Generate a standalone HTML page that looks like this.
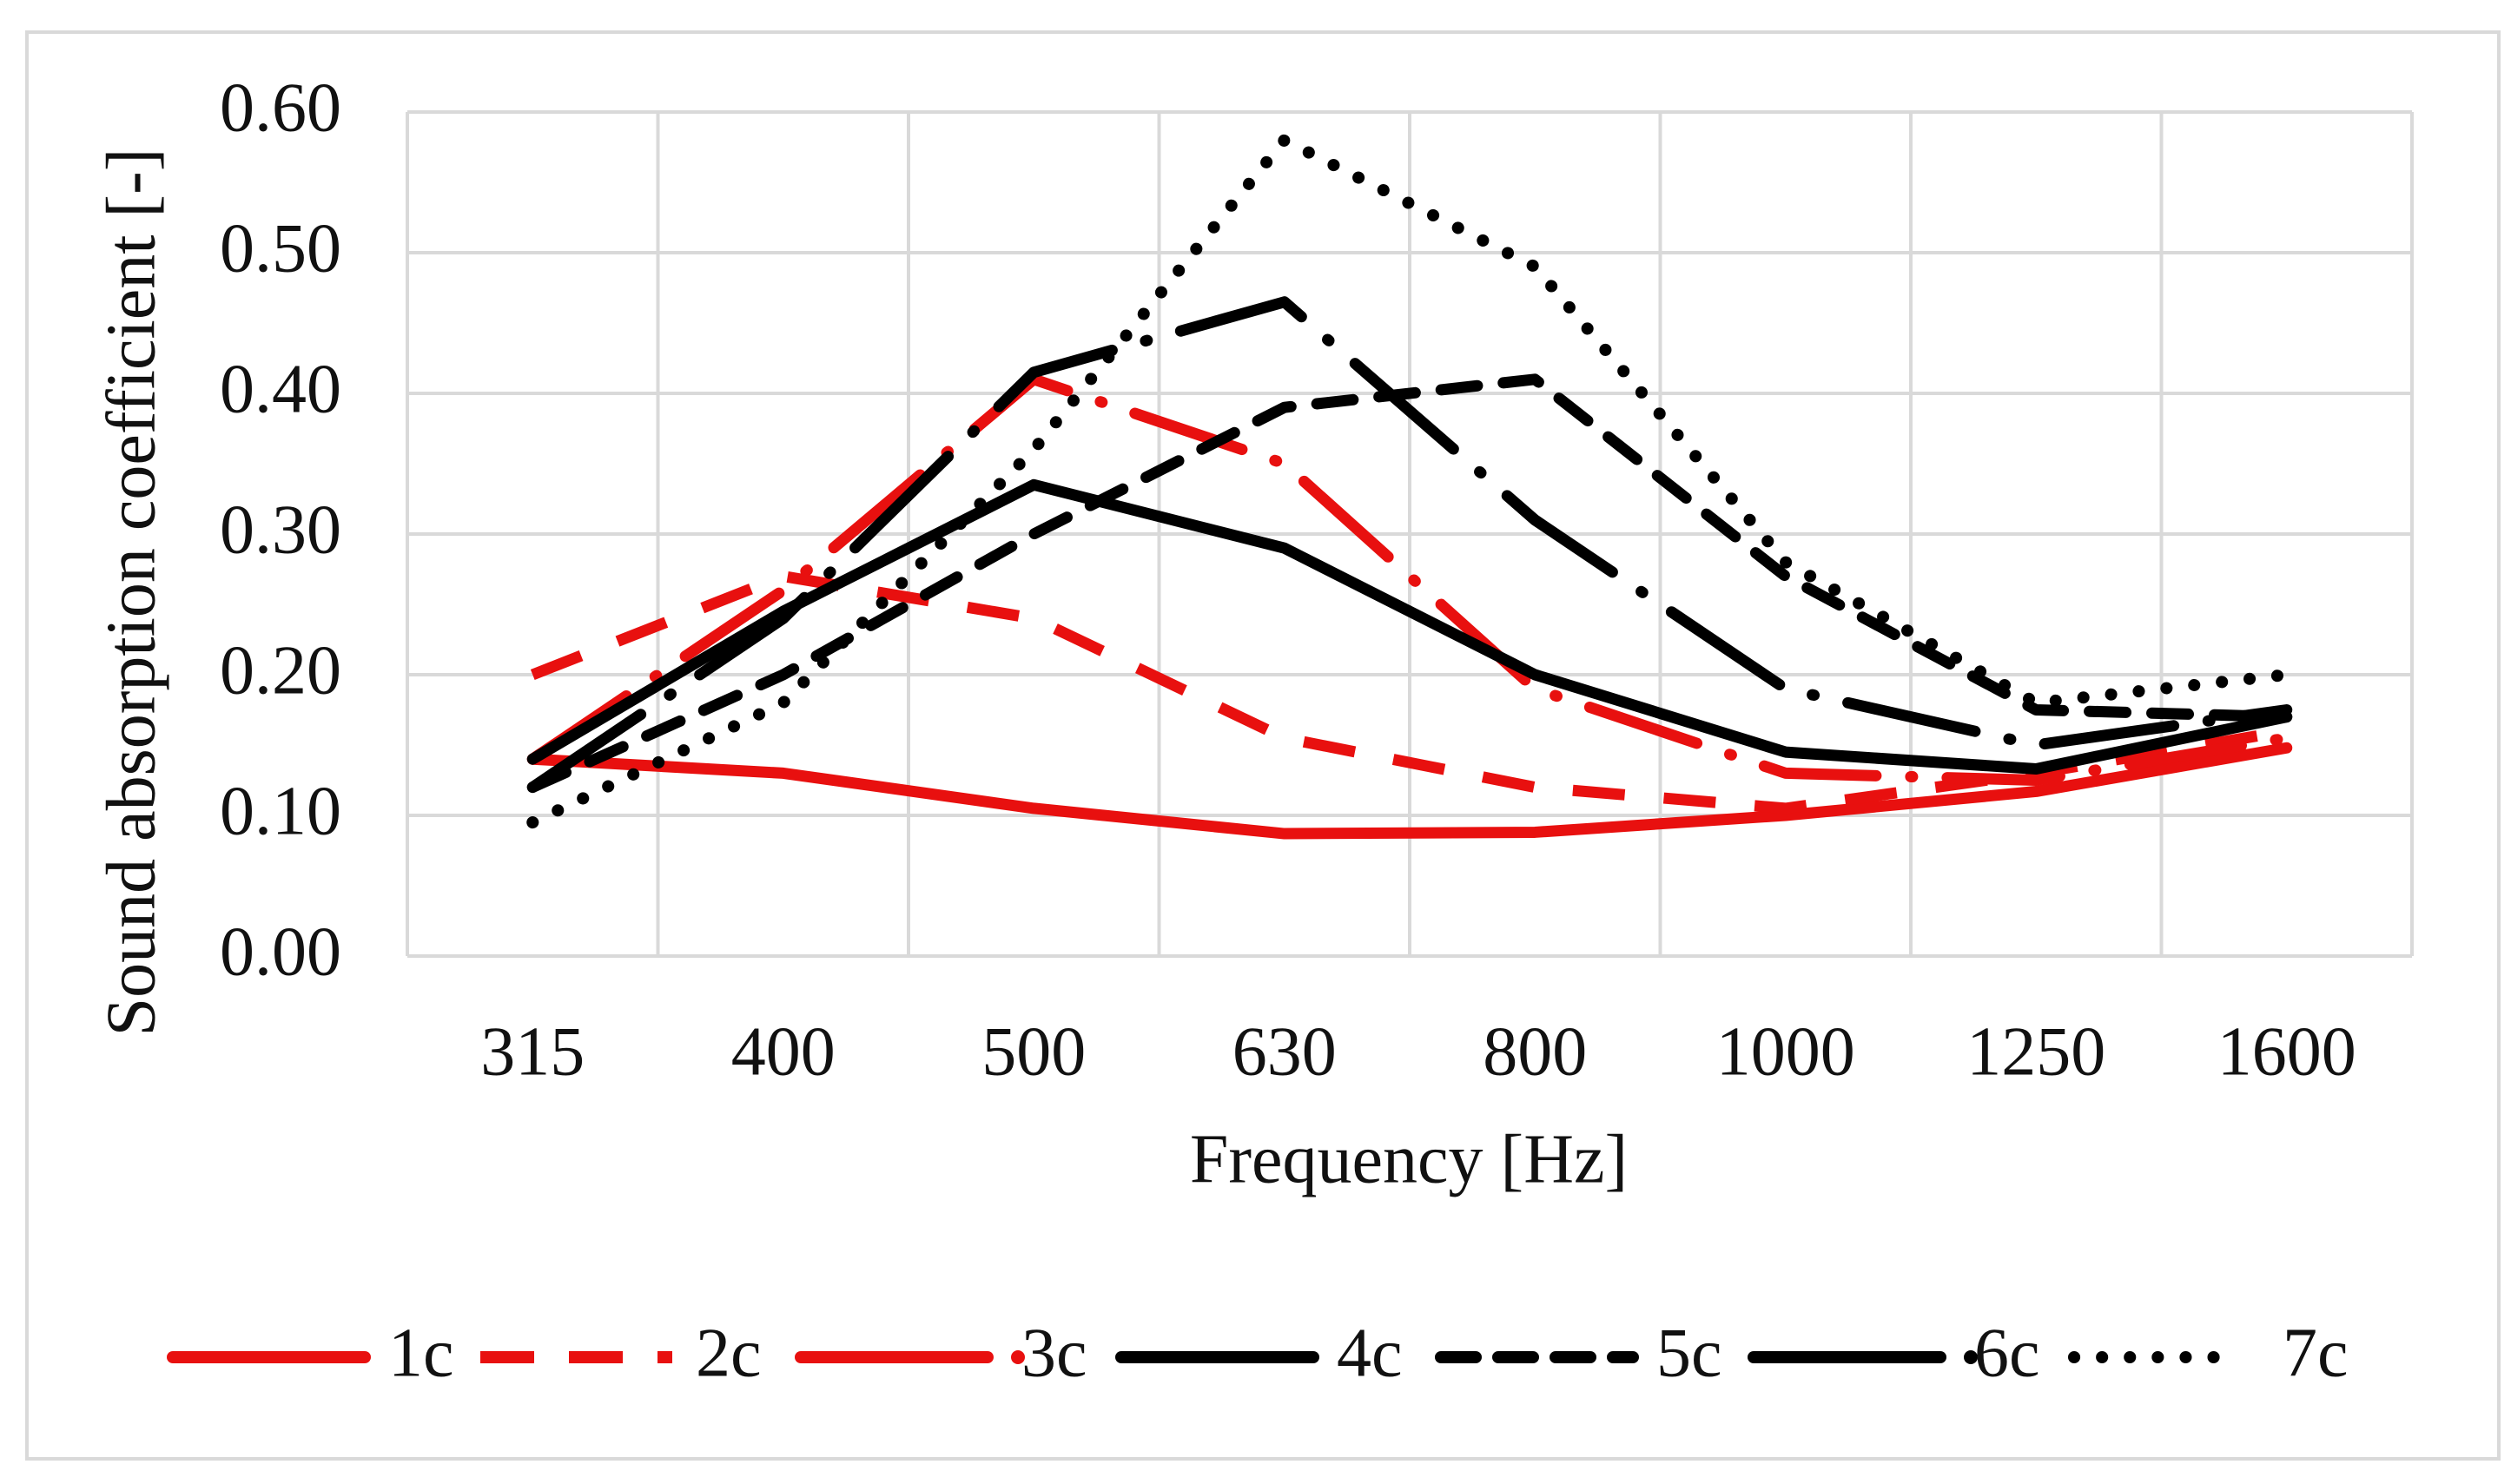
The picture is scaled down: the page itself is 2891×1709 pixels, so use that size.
<!DOCTYPE html>
<html><head><meta charset="utf-8"><style>
html,body{margin:0;padding:0;background:#fff;}
svg{display:block;}
text{font-family:"Liberation Serif",serif;fill:#111;}
</style></head><body>
<svg id="chart" width="2891" height="1709" viewBox="0 0 2891 1709" xmlns="http://www.w3.org/2000/svg">
<rect x="31" y="37" width="2846" height="1643" fill="#fff" stroke="#d9d9d9" stroke-width="4"/>
<g id="grid"></g>
<g id="yticks"></g>
<g id="xticks"></g>
<g id="series"></g>
<text x="159" y="682" font-size="80" text-anchor="middle" dominant-baseline="middle" transform="rotate(-90 159 682)">Sound absorption coefficient [-]</text>
<text x="1622" y="1343" font-size="80" text-anchor="middle" dominant-baseline="middle">Frequency [Hz]</text>
<g id="legend"></g>
</svg>
<script>
const categories = ["315","400","500","630","800","1000","1250","1600"];
const yTicks = [0,0.1,0.2,0.3,0.4,0.5,0.6];
const yTickLabels = ["0.00","0.10","0.20","0.30","0.40","0.50","0.60"];
const s1c = [0.14,0.13,0.105,0.087,0.088,0.10,0.117,0.148];
const s2c = [0.20,0.27,0.24,0.155,0.12,0.105,0.13,0.16];
const s3c = [0.14,0.26,0.41,0.35,0.19,0.13,0.125,0.155];
const s4c = [0.14,0.245,0.335,0.29,0.20,0.145,0.133,0.17];
const s5c = [0.12,0.20,0.30,0.39,0.41,0.27,0.175,0.17];
const s6c = [0.12,0.24,0.415,0.465,0.31,0.19,0.15,0.175];
const s7c = [0.095,0.18,0.36,0.58,0.49,0.28,0.18,0.20];
const seriesNames = ["1c","2c","3c","4c","5c","6c","7c"];

const NS="http://www.w3.org/2000/svg";
const L=469,R=2777,T=129,B=1101,YMAX=0.6;
const cw=(R-L)/categories.length;
const xS=i=>L+cw*(i+0.5);
const yS=v=>B-(v/YMAX)*(B-T);
function mk(tag,attrs,parent){const e=document.createElementNS(NS,tag);for(const k in attrs)e.setAttribute(k,attrs[k]);parent.appendChild(e);return e;}

const grid=document.getElementById('grid');
yTicks.forEach((v,i)=>{
  const ln=mk('line',{x1:L,x2:R,y1:yS(v),y2:yS(v),stroke:'#d9d9d9','stroke-width':4},grid);
  
  
  const t=mk('text',{x:393,y:yS(v)+3,'font-size':80,'text-anchor':'end','dominant-baseline':'middle'},document.getElementById('yticks'));
  t.textContent=yTickLabels[i];
  
  
});
for(let i=0;i<=categories.length;i++){
  const ln=mk('line',{x1:L+cw*i,x2:L+cw*i,y1:T,y2:B,stroke:'#d9d9d9','stroke-width':4},grid);
  
  
}
categories.forEach((c,i)=>{
  const t=mk('text',{x:xS(i),y:1219,'font-size':80,'text-anchor':'middle','dominant-baseline':'middle'},document.getElementById('xticks'));
  t.textContent=c;
  
  
});

const styles=[
 {c:'#e8100f',d:'',cap:'round'},
 {c:'#e8100f',d:'60 45',cap:'butt'},
 {c:'#e8100f',d:'130 40 2 40',cap:'round'},
 {c:'#000',d:'',cap:'round'},
 {c:'#000',d:'42 30',cap:'round'},
 {c:'#000',d:'150 40 2 40',cap:'round'},
 {c:'#000',d:'0.1 32',cap:'round'}
];
const allSeries=[s1c,s2c,s3c,s4c,s5c,s6c,s7c];
const sg=document.getElementById('series');
allSeries.forEach((s,k)=>{
  const d=s.map((v,i)=>(i?'L':'M')+xS(i)+' '+yS(v)).join(' ');
  const p=mk('path',{d:d,fill:'none',stroke:styles[k].c,'stroke-width':k==6?14:13,'stroke-linejoin':'round','stroke-linecap':styles[k].cap},sg);
  if(styles[k].d)p.setAttribute('stroke-dasharray',styles[k].d);
  
  
});

const lg=document.getElementById('legend');
const lx=[199,553,922,1291,1659,2019,2388];
const LY=1563;
seriesNames.forEach((n,k)=>{
  const g=mk('g',{},lg);
  
  
  const x0=lx[k];
  const p=mk('line',{x1:x0,x2:x0+(k==6?192:221),y1:LY,y2:LY,stroke:styles[k].c,'stroke-width':k==6?14:14,'stroke-linecap':styles[k].cap},g);
  if(k==1)p.setAttribute('stroke-dasharray','62 40');
  if(k==4)p.setAttribute('stroke-dasharray','40 26');
  if(k==6)p.setAttribute('stroke-dasharray','0.1 32');
  if(k==2||k==5){p.setAttribute('x2',x0+215);mk('circle',{cx:x0+250,cy:LY,r:8,fill:styles[k].c},g);}
  const t=mk('text',{x:x0+(k==6?240:248)+(k==2||k==5?6:0),y:LY+3,'font-size':80,'dominant-baseline':'middle'},g);
  t.textContent=n;
});
</script>
</body></html>
